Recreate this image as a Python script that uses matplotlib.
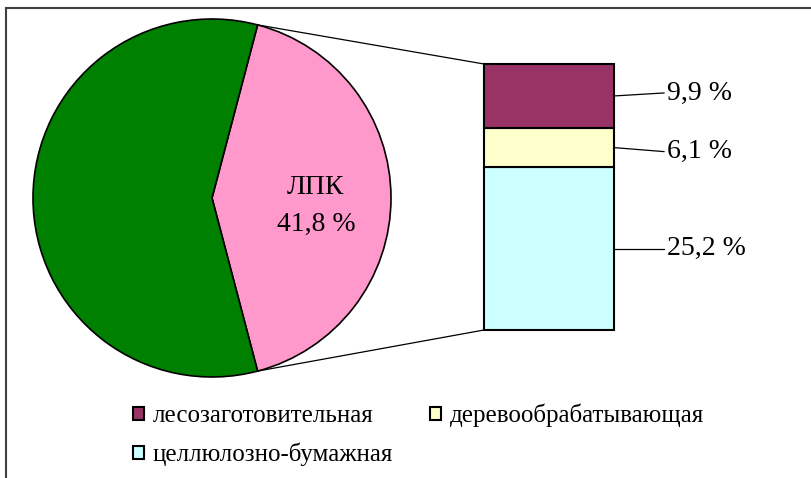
import numpy as np
import matplotlib.pyplot as plt
from matplotlib.patches import Rectangle

plt.rcParams['font.family'] = ['Liberation Serif', 'DejaVu Serif']
plt.rcParams['font.size'] = 20

# доля ЛПК в общем объёме (круг)
pie_labels = ['ЛПК', 'прочие']
pie_values = [41.8, 58.2]
pie_colors = ['#FF99CC', '#008000']

# структура ЛПК по отраслям (столбец)
sectors = ['лесозаготовительная', 'деревообрабатывающая', 'целлюлозно-бумажная']
shares = [9.9, 6.1, 25.2]
sector_colors = ['#993366', '#FFFFCC', '#CCFFFF']

W, H = 812, 478
fig = plt.figure(figsize=(W / 100, H / 100), dpi=100)
ax = fig.add_axes([0, 0, 1, 1])

# layout in pixels
cx, cy, r = 212, H - 198, 179
bar_left, bar_right = 484, 614
bar_top, bar_bottom = H - 64, H - 330
lead_x, text_x = 664, 667
label_shift = [3, -4, 0]

# pie, pink slice centred on the right side
half = pie_values[0] / 100 * 180
wedges, _ = ax.pie(pie_values, colors=pie_colors, startangle=-half,
                   center=(cx, cy), radius=r, frame=True,
                   wedgeprops=dict(edgecolor='black', linewidth=1.2))
ang = np.deg2rad((wedges[0].theta1 + wedges[0].theta2) / 2)
ax.text(cx + 0.58 * r * np.cos(ang), cy - 8 + 0.58 * r * np.sin(ang),
        f"{pie_labels[0]}\n{pie_values[0]:.1f} %".replace('.', ','),
        ha='center', va='center', linespacing=1.6)

# stacked bar
scale = (bar_top - bar_bottom) / sum(shares)
bottom = bar_bottom
handles = {}
for i in [2, 1, 0]:
    h = shares[i] * scale
    b = ax.bar((bar_left + bar_right) / 2, h, width=bar_right - bar_left,
               bottom=bottom, color=sector_colors[i], edgecolor='black',
               linewidth=1.5, label=sectors[i])
    handles[i] = b[0]
    mid = bottom + h / 2
    ty = mid + label_shift[i]
    ax.plot([bar_right, lead_x], [mid, ty], color='black', lw=0.9)
    ax.text(text_x, ty, f"{shares[i]:.1f} %".replace('.', ','),
            ha='left', va='center')
    bottom += h

# connector lines from pie slice to the bar
for th, by in [(wedges[0].theta2, bar_top), (wedges[0].theta1, bar_bottom)]:
    t = np.deg2rad(th)
    ax.plot([cx + r * np.cos(t), bar_left], [cy + r * np.sin(t), by],
            color='black', lw=0.9)

ax.legend([handles[0], handles[2], handles[1]],
          [sectors[0], sectors[2], sectors[1]],
          ncol=2, loc='upper left', bbox_to_anchor=(133 / W, 1 - 404 / H),
          frameon=False, borderpad=0, handlelength=0.45, handleheight=0.45,
          handletextpad=0.35, columnspacing=1.45, labelspacing=0.62,
          borderaxespad=0, fontsize=18)

# chart border
ax.add_patch(Rectangle((6, -20), W, H - 8 + 20, fill=False,
                       edgecolor='#404040', lw=1.5))

ax.set_xlim(0, W)
ax.set_ylim(0, H)
ax.set_aspect('equal')
ax.axis('off')

fig.savefig('out.png', dpi=100)
